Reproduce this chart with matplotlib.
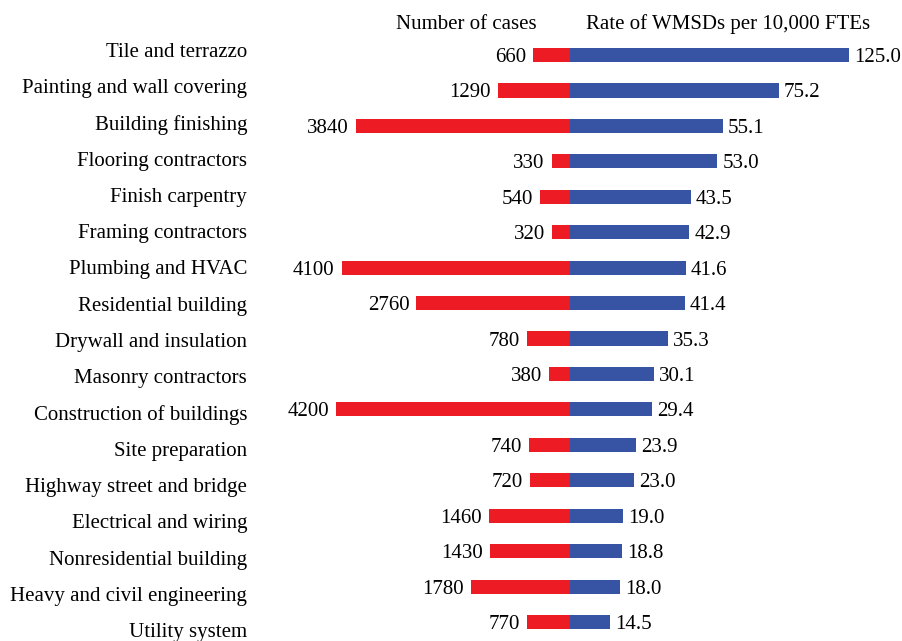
import matplotlib.pyplot as plt
import numpy as np

# industries, top to bottom
industries = ["Tile and terrazzo", "Painting and wall covering", "Building finishing",
              "Flooring contractors", "Finish carpentry", "Framing contractors",
              "Plumbing and HVAC", "Residential building", "Drywall and insulation",
              "Masonry contractors", "Construction of buildings", "Site preparation",
              "Highway street and bridge", "Electrical and wiring", "Nonresidential building",
              "Heavy and civil engineering", "Utility system"]
cases = [660, 1290, 3840, 330, 540, 320, 4100, 2760, 780, 380, 4200, 740, 720,
         1460, 1430, 1780, 770]
rates = [125.0, 75.2, 55.1, 53.0, 43.5, 42.9, 41.6, 41.4, 35.3, 30.1, 29.4, 23.9,
         23.0, 19.0, 18.8, 18.0, 14.5]

RED = "#ED1C24"
BLUE = "#3653A4"
k_left = 0.0557   # px per case
k_right = 2.78    # px per rate unit
rate_cap = 100.4  # longest bar is cut short in the original

plt.rcParams['font.family'] = ['Liberation Serif', 'DejaVu Serif']

fig = plt.figure(figsize=(9.03, 6.41), dpi=100)
ax = fig.add_axes([0, 0, 1, 1])
ax.set_xlim(-570, 333)
row_px = 35.44
ax.set_ylim((641 - 55) / row_px, -55 / row_px)
ax.axis('off')

y = np.arange(len(industries))
left_w = -np.array(cases) * k_left
right_w = np.minimum(rates, rate_cap) * k_right
ax.barh(y, left_w, height=0.40, color=RED)
ax.barh(y, right_w, height=0.40, color=BLUE)

fs = 15
dy = 2.5 / row_px
for i, (name, c, r) in enumerate(zip(industries, cases, rates)):
    ax.text(left_w[i] - 7, i + dy, f"{c}", ha='right', va='center', fontsize=fs)
    ax.text(right_w[i] + 5, i + dy, f"{r:.1f}", ha='left', va='center', fontsize=fs)
    label_y = (-5 + 36.25 * i) / row_px + dy
    ax.text(-323, label_y, name, ha='right', va='center', fontsize=fs)

ax.text(-33, -33 / row_px + dy, "Number of cases", ha='right', va='center', fontsize=fs)
ax.text(16, -33 / row_px + dy, "Rate of WMSDs per 10,000 FTEs", ha='left', va='center', fontsize=fs)

fig.savefig("out.png", dpi=100)
